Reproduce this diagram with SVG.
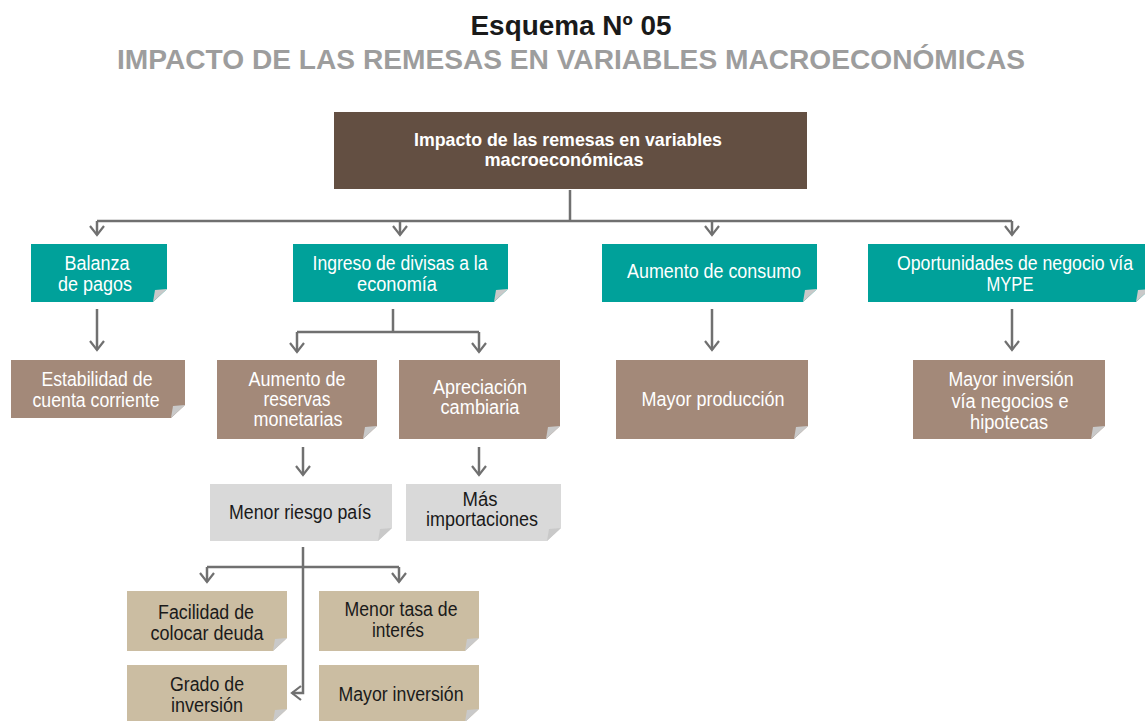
<svg xmlns="http://www.w3.org/2000/svg" width="1145" height="721" viewBox="0 0 1145 721">
<style>
.t{font-family:"Liberation Sans Narrow","Liberation Sans",Arial,sans-serif;font-size:20px;text-anchor:middle;}
.w{fill:#ffffff;}
.k{fill:#1a1a1a;}
.b{font-weight:bold;}
.teal{fill:#00a19a;}
.brown{fill:#a38979;}
.grey{fill:#d9d9d9;}
.tan{fill:#cbbda2;}
.flap{fill:#c9c9c9;}
.c{fill:none;stroke:#707070;stroke-width:2.5;}
</style>
<defs>
<marker id="ah" viewBox="0 0 12 16" refX="10" refY="8" markerWidth="12" markerHeight="16" markerUnits="userSpaceOnUse" orient="auto">
<path d="M1,1 L10,8 L1,15" fill="none" stroke="#707070" stroke-width="2.2"/>
</marker>
</defs>
<rect width="1145" height="721" fill="#ffffff"/>
<g id="title">
<text x="571" y="35" class="t b k" style="font-size:27px" textLength="201" lengthAdjust="spacingAndGlyphs">Esquema Nº 05</text>
<text x="571" y="69" class="t b" style="font-size:27px;fill:#9d9d9d" textLength="908" lengthAdjust="spacingAndGlyphs">IMPACTO DE LAS REMESAS EN VARIABLES MACROECONÓMICAS</text>
</g>
<g id="connectors">
<path class="c" d="M570,190 V221 M97,221 H1012"/>
<path class="c" marker-end="url(#ah)" d="M97,221 V235"/>
<path class="c" marker-end="url(#ah)" d="M400,221 V235"/>
<path class="c" marker-end="url(#ah)" d="M712,221 V235"/>
<path class="c" marker-end="url(#ah)" d="M1012,221 V235"/>
<path class="c" marker-end="url(#ah)" d="M97,309 V350"/>
<path class="c" d="M393,309 V332 M297,332 H479"/>
<path class="c" marker-end="url(#ah)" d="M297,332 V352"/>
<path class="c" marker-end="url(#ah)" d="M479,332 V352"/>
<path class="c" marker-end="url(#ah)" d="M712,309 V350"/>
<path class="c" marker-end="url(#ah)" d="M1012,309 V350"/>
<path class="c" marker-end="url(#ah)" d="M303,447 V475"/>
<path class="c" marker-end="url(#ah)" d="M479,447 V475"/>
<path class="c" d="M207,567 H399"/>
<path class="c" marker-end="url(#ah)" d="M207,567 V582"/>
<path class="c" marker-end="url(#ah)" d="M399,567 V582"/>
<path class="c" marker-end="url(#ah)" d="M303,547 V693 H292"/>
</g>
<g id="n-root">
<rect x="334" y="112" width="473" height="77" fill="#634f42"/>
<text x="568" y="146" class="t b w" style="font-size:19px" textLength="308" lengthAdjust="spacingAndGlyphs">Impacto de las remesas en variables</text>
<text x="564" y="166" class="t b w" style="font-size:19px" textLength="159" lengthAdjust="spacingAndGlyphs">macroeconómicas</text>
</g>
<g id="n-balanza">
<path class="teal" d="M31,244 H167 V289 L153,302 H31 Z"/>
<polygon class="flap" points="153,302 155,290 167,289"/>
<text x="97" y="270" class="t w" textLength="65" lengthAdjust="spacingAndGlyphs">Balanza</text>
<text x="95" y="291" class="t w" textLength="74" lengthAdjust="spacingAndGlyphs">de pagos</text>
</g>
<g id="n-ingreso">
<path class="teal" d="M293,244 H508 V289 L494,302 H293 Z"/>
<polygon class="flap" points="494,302 496,290 508,289"/>
<text x="400" y="270" class="t w" textLength="175" lengthAdjust="spacingAndGlyphs">Ingreso de divisas a la</text>
<text x="397" y="291" class="t w" textLength="80" lengthAdjust="spacingAndGlyphs">economía</text>
</g>
<g id="n-consumo">
<path class="teal" d="M602,244 H817 V289 L803,302 H602 Z"/>
<polygon class="flap" points="803,302 805,290 817,289"/>
<text x="714" y="278" class="t w" textLength="174" lengthAdjust="spacingAndGlyphs">Aumento de consumo</text>
</g>
<g id="n-oportunidades">
<path class="teal" d="M868,244 H1150 V289 L1136,302 H868 Z"/>
<polygon class="flap" points="1136,302 1138,290 1150,289"/>
<text x="1015" y="270" class="t w" textLength="236" lengthAdjust="spacingAndGlyphs">Oportunidades de negocio vía</text>
<text x="1010" y="291" class="t w" textLength="47" lengthAdjust="spacingAndGlyphs">MYPE</text>
</g>
<g id="n-estabilidad">
<path class="brown" d="M11,360 H185 V405 L171,418 H11 Z"/>
<polygon class="flap" points="171,418 173,406 185,405"/>
<text x="97" y="386" class="t w" textLength="111" lengthAdjust="spacingAndGlyphs">Estabilidad de</text>
<text x="96" y="407" class="t w" textLength="127" lengthAdjust="spacingAndGlyphs">cuenta corriente</text>
</g>
<g id="n-reservas">
<path class="brown" d="M217,360 H377 V426 L363,439 H217 Z"/>
<polygon class="flap" points="363,439 365,427 377,426"/>
<text x="297" y="386" class="t w" textLength="97" lengthAdjust="spacingAndGlyphs">Aumento de</text>
<text x="297" y="406" class="t w" textLength="67" lengthAdjust="spacingAndGlyphs">reservas</text>
<text x="298" y="426" class="t w" textLength="89" lengthAdjust="spacingAndGlyphs">monetarias</text>
</g>
<g id="n-apreciacion">
<path class="brown" d="M399,360 H560 V426 L546,439 H399 Z"/>
<polygon class="flap" points="546,439 548,427 560,426"/>
<text x="480" y="394" class="t w" textLength="94" lengthAdjust="spacingAndGlyphs">Apreciación</text>
<text x="480" y="414" class="t w" textLength="79" lengthAdjust="spacingAndGlyphs">cambiaria</text>
</g>
<g id="n-produccion">
<path class="brown" d="M616,360 H808 V426 L794,439 H616 Z"/>
<polygon class="flap" points="794,439 796,427 808,426"/>
<text x="713" y="406" class="t w" textLength="143" lengthAdjust="spacingAndGlyphs">Mayor producción</text>
</g>
<g id="n-inversion-negocios">
<path class="brown" d="M913,360 H1105 V426 L1091,439 H913 Z"/>
<polygon class="flap" points="1091,439 1093,427 1105,426"/>
<text x="1011" y="386" class="t w" textLength="125" lengthAdjust="spacingAndGlyphs">Mayor inversión</text>
<text x="1010" y="408" class="t w" textLength="117" lengthAdjust="spacingAndGlyphs">vía negocios e</text>
<text x="1009" y="429" class="t w" textLength="78" lengthAdjust="spacingAndGlyphs">hipotecas</text>
</g>
<g id="n-riesgo">
<path class="grey" d="M210,484 H392 V528 L378,541 H210 Z"/>
<polygon class="flap" points="378,541 380,529 392,528"/>
<text x="300" y="519" class="t k" textLength="142" lengthAdjust="spacingAndGlyphs">Menor riesgo país</text>
</g>
<g id="n-importaciones">
<path class="grey" d="M406,484 H561 V528 L547,541 H406 Z"/>
<polygon class="flap" points="547,541 549,529 561,528"/>
<text x="480" y="506" class="t k" textLength="35" lengthAdjust="spacingAndGlyphs">Más</text>
<text x="482" y="526" class="t k" textLength="112" lengthAdjust="spacingAndGlyphs">importaciones</text>
</g>
<g id="n-facilidad">
<path class="tan" d="M127,591 H287 V638 L273,651 H127 Z"/>
<polygon class="flap" points="273,651 275,639 287,638"/>
<text x="206" y="619" class="t k" textLength="96" lengthAdjust="spacingAndGlyphs">Facilidad de</text>
<text x="207" y="640" class="t k" textLength="113" lengthAdjust="spacingAndGlyphs">colocar deuda</text>
</g>
<g id="n-tasa">
<path class="tan" d="M319,591 H479 V638 L465,651 H319 Z"/>
<polygon class="flap" points="465,651 467,639 479,638"/>
<text x="401" y="616" class="t k" textLength="113" lengthAdjust="spacingAndGlyphs">Menor tasa de</text>
<text x="398" y="637" class="t k" textLength="52" lengthAdjust="spacingAndGlyphs">interés</text>
</g>
<g id="n-grado">
<path class="tan" d="M127,665 H287 V709 L273,722 H127 Z"/>
<polygon class="flap" points="273,722 275,710 287,709"/>
<text x="207" y="691" class="t k" textLength="74" lengthAdjust="spacingAndGlyphs">Grado de</text>
<text x="207" y="712" class="t k" textLength="72" lengthAdjust="spacingAndGlyphs">inversión</text>
</g>
<g id="n-mayor-inversion">
<path class="tan" d="M319,665 H479 V709 L465,722 H319 Z"/>
<polygon class="flap" points="465,722 467,710 479,709"/>
<text x="401" y="701" class="t k" textLength="125" lengthAdjust="spacingAndGlyphs">Mayor inversión</text>
</g>
</svg>
